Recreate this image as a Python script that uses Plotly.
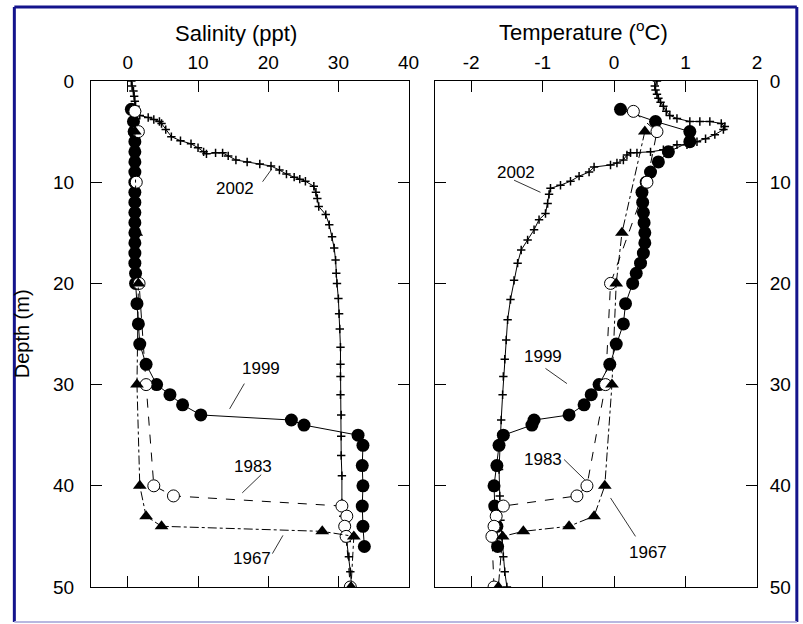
import plotly.graph_objects as go

# ---------------- data ----------------
# 2002 CTD profile (salinity)
sal2002_depth = [0.0, 0.5, 1.0, 1.5, 2.0, 2.5, 3.0, 3.4, 3.6, 3.8, 4.0, 4.2, 4.8, 5.5, 5.9, 6.2, 6.6, 7.0,
                 7.2, 7.1, 7.1, 7.4, 7.8, 8.0, 8.2, 8.4, 8.8, 9.2, 9.5, 9.7, 9.9, 10.4, 11.0, 11.6, 12.4,
                 13.2, 14.2, 15.4, 16.5, 17.7, 19.0, 20.0, 21.5, 23.0, 24.5, 26.3, 28.0, 29.2, 31.0,
                 33.0, 35.1, 37.0, 39.0, 41.7, 43.0, 44.4, 45.5, 47.0, 48.5, 50.0]
sal2002 = [0.5, 0.6, 0.8, 0.9, 1.0, 1.1, 1.3, 1.7, 2.9, 3.7, 4.5, 4.8, 5.4, 6.2, 7.5, 9.0, 10.0, 10.8,
           11.2, 12.5, 13.5, 14.3, 15.4, 17.0, 18.8, 20.4, 21.6, 22.6, 23.7, 24.5, 25.3, 26.5, 26.8,
           27.0, 27.2, 28.2, 28.7, 29.1, 29.4, 29.6, 29.7, 29.8, 30.0, 30.1, 30.2, 30.3, 30.3, 30.3,
           30.3, 30.4, 30.4, 30.4, 30.5, 30.5, 30.7, 30.9, 31.2, 31.5, 31.7, 31.9]

# 2002 CTD profile (temperature)
tem2002_depth = [0.0, 0.5, 0.9, 1.3, 1.7, 2.1, 2.5, 3.0, 3.4, 3.7, 4.0, 4.0, 4.0, 4.2, 4.5, 4.8, 5.3,
                 5.7, 6.0, 6.3, 6.3, 6.8, 7.0, 7.1, 7.1, 7.3, 7.8, 8.1, 8.3, 8.5, 9.0, 9.4, 9.9, 10.3,
                 10.6, 11.2, 12.1, 13.1, 13.7, 14.7, 15.7, 16.7, 18.0, 19.7, 21.6, 23.6, 25.6, 27.5,
                 29.2, 31.0, 33.5, 36.0, 38.4, 41.0, 43.4, 45.0, 47.0, 48.5, 50.0]
tem2002 = [0.60, 0.57, 0.58, 0.60, 0.62, 0.65, 0.69, 0.73, 0.78, 0.88, 1.06, 1.20, 1.34, 1.50, 1.55,
           1.53, 1.41, 1.28, 1.16, 1.02, 0.88, 0.69, 0.51, 0.32, 0.23, 0.18, 0.13, 0.04, -0.05, -0.28,
           -0.35, -0.49, -0.61, -0.75, -0.89, -0.91, -0.93, -0.96, -1.05, -1.12, -1.21, -1.30, -1.35,
           -1.40, -1.45, -1.49, -1.51, -1.53, -1.55, -1.56, -1.58, -1.60, -1.61, -1.60, -1.59, -1.57,
           -1.55, -1.53, -1.50]

# 1999 profile
d1999 = [2.8, 4, 5, 6, 7, 8, 9, 10, 11, 12, 13, 14, 15, 16, 17, 18, 19, 20, 22, 24, 26, 28, 30, 31,
         32, 33, 33.5, 34, 35, 36, 38, 40, 42, 44, 46]
sal1999 = [0.5, 0.8, 0.9, 1.0, 1.0, 1.0, 1.0, 1.0, 1.0, 1.0, 1.0, 1.0, 1.0, 1.0, 1.0, 1.0, 1.1, 1.1,
           1.3, 1.5, 1.7, 2.6, 4.1, 6.0, 7.8, 10.4, 23.3, 25.1, 32.8, 33.5, 33.4, 33.5, 33.4, 33.5, 33.7]
tem1999 = [0.09, 0.58, 1.06, 1.06, 0.76, 0.62, 0.51, 0.45, 0.39, 0.40, 0.41, 0.42, 0.43, 0.43, 0.41,
           0.37, 0.31, 0.26, 0.16, 0.13, 0.03, -0.06, -0.21, -0.32, -0.42, -0.63, -1.12, -1.15, -1.55,
           -1.61, -1.64, -1.68, -1.67, -1.64, -1.63]

# 1983 profile
d1983 = [3, 5, 10, 20, 30, 40, 41, 42, 43, 44, 45, 50]
sal1983 = [1.0, 1.5, 1.2, 1.6, 2.6, 3.7, 6.5, 30.5, 31.2, 30.9, 31.1, 31.7]
tem1983 = [0.27, 0.60, 0.46, -0.05, -0.12, -0.38, -0.52, -1.55, -1.65, -1.68, -1.71, -1.68]

# 1967 profile
d1967 = [5, 15, 20, 30, 40, 43, 44, 44.5, 45, 50]
sal1967 = [1.0, 1.2, 1.5, 1.3, 1.7, 2.6, 4.8, 27.7, 32.2, 31.8]
tem1967 = [0.43, 0.11, 0.03, -0.03, -0.13, -0.28, -0.63, -1.27, -1.56, -1.62]

depth_ticks = [0, 10, 20, 30, 40, 50]
sal_ticks = [0, 10, 20, 30, 40]
tem_ticks = [-2, -1, 0, 1, 2]
tem_ticktext = ["-2", "-1", "0", "1", "2"]

# year labels: (text, x, y) in data units, leader line (x0, y0, x1, y1)
sal_labels = [("2002", 15.2, 10.6, 19.2, 9.95, 20.5, 8.7),
              ("1999", 19.0, 28.4, 16.6, 29.9, 14.5, 32.4),
              ("1983", 17.8, 38.1, 19.0, 38.9, 16.3, 40.7),
              ("1967", 17.7, 47.2, 20.6, 46.7, 22.1, 44.9)]
tem_labels = [("2002", -1.37, 9.0, -1.40, 9.8, -1.03, 11.0),
              ("1999", -0.99, 27.2, -0.96, 28.4, -0.66, 29.9),
              ("1983", -0.99, 37.4, -0.70, 37.4, -0.41, 39.4),
              ("1967", 0.47, 46.6, 0.30, 45.0, -0.05, 41.2)]

# ---------------- figure ----------------
W, H = 803, 624
L, R, T, B = 91, 760, 81, 587
FONT = "Liberation Sans, Arial, sans-serif"


def px_x(p):
    return (p - L) / (R - L)


def px_y(p):
    return (B - p) / (B - T)


fig = go.Figure()


def add_panel(xa, ya, d02, v02, v99, v83, v67):
    fig.add_trace(go.Scatter(x=v02, y=d02, xaxis=xa, yaxis=ya, mode="lines+markers",
                             line=dict(color="black", width=1),
                             marker=dict(symbol="cross-thin", size=6, color="black",
                                         line=dict(color="black", width=1.5)),
                             showlegend=False))
    fig.add_trace(go.Scatter(x=v99, y=d1999, xaxis=xa, yaxis=ya, mode="lines+markers",
                             line=dict(color="black", width=1),
                             marker=dict(symbol="circle", size=13, color="black"),
                             showlegend=False))
    fig.add_trace(go.Scatter(x=v83, y=d1983, xaxis=xa, yaxis=ya, mode="lines+markers",
                             line=dict(color="black", width=1, dash="dash"),
                             marker=dict(symbol="circle", size=12, color="white",
                                         line=dict(color="black", width=1)),
                             showlegend=False))
    fig.add_trace(go.Scatter(x=v67, y=d1967, xaxis=xa, yaxis=ya, mode="lines+markers",
                             line=dict(color="black", width=1, dash="dashdot"),
                             marker=dict(symbol="triangle-up", size=12, color="black"),
                             showlegend=False))


add_panel("x", "y", sal2002_depth, sal2002, sal1999, sal1983, sal1967)
add_panel("x2", "y2", tem2002_depth, tem2002, tem1999, tem1983, tem1967)

annotations = []
shapes = []
for labels, xr, yr in ((sal_labels, "x", "y"), (tem_labels, "x2", "y2")):
    for txt, tx, ty, x0, y0, x1, y1 in labels:
        annotations.append(dict(text=txt, x=tx, y=ty, xref=xr, yref=yr, showarrow=False,
                                xanchor="center", yanchor="middle",
                                font=dict(family=FONT, size=17, color="black")))
        shapes.append(dict(type="line", x0=x0, y0=y0, x1=x1, y1=y1, xref=xr, yref=yr,
                           line=dict(color="black", width=0.8)))

annotations.append(dict(text="Salinity (ppt)", x=px_x(237), y=px_y(33), xref="paper", yref="paper",
                        xanchor="center", yanchor="middle", showarrow=False,
                        font=dict(family=FONT, size=22, color="black")))
annotations.append(dict(text="Temperature (<sup>o</sup>C)", x=px_x(586), y=px_y(31), xref="paper",
                        yref="paper", xanchor="center", yanchor="middle", showarrow=False,
                        font=dict(family=FONT, size=22, color="black")))
annotations.append(dict(text="Depth (m)", x=px_x(22), y=px_y(334), xref="paper", yref="paper",
                        xanchor="center", yanchor="middle", textangle=-90, showarrow=False,
                        font=dict(family=FONT, size=20, color="black")))

# blue page border
BLUE = "#14148c"
shapes += [
    dict(type="line", xref="paper", yref="paper", x0=px_x(14), x1=px_x(14), y0=px_y(7), y1=px_y(622),
         line=dict(color=BLUE, width=3)),
    dict(type="line", xref="paper", yref="paper", x0=px_x(800), x1=px_x(800), y0=px_y(7), y1=px_y(622),
         line=dict(color=BLUE, width=3)),
    dict(type="line", xref="paper", yref="paper", x0=px_x(14), x1=px_x(800), y0=px_y(7), y1=px_y(7),
         line=dict(color=BLUE, width=3)),
    dict(type="line", xref="paper", yref="paper", x0=px_x(14), x1=px_x(800), y0=px_y(622), y1=px_y(622),
         line=dict(color="#b8b8e0", width=2)),
]

axis_common = dict(ticks="inside", ticklen=11, tickwidth=1, tickcolor="black", showline=True,
                   linecolor="black", linewidth=1, mirror="ticks", showgrid=False, zeroline=False,
                   tickfont=dict(family=FONT, size=19, color="black"))

fig.update_layout(
    width=W, height=H,
    margin=dict(l=L, r=W - R, t=T, b=H - B, pad=0),
    paper_bgcolor="white", plot_bgcolor="white",
    xaxis=dict(domain=[0, px_x(410)], range=[-5.25, 40], tickvals=sal_ticks, side="top",
               anchor="y", ticklabelstandoff=3, **axis_common),
    xaxis2=dict(domain=[px_x(437), 1], range=[-2.5, 2], tickvals=tem_ticks, ticktext=tem_ticktext,
                side="top", anchor="y2", ticklabelstandoff=3, **axis_common),
    yaxis=dict(domain=[0, 1], range=[50, 0], tickvals=depth_ticks, anchor="x", side="left",
               ticklabelstandoff=12, **axis_common),
    yaxis2=dict(domain=[0, 1], range=[50, 0], tickvals=depth_ticks, anchor="x2", side="right",
                ticklabelstandoff=8, **axis_common),
    annotations=annotations,
    shapes=shapes,
    showlegend=False,
)

fig.write_html("out.html", config={"displayModeBar": False},
               post_script="document.body.style.margin='0';")
